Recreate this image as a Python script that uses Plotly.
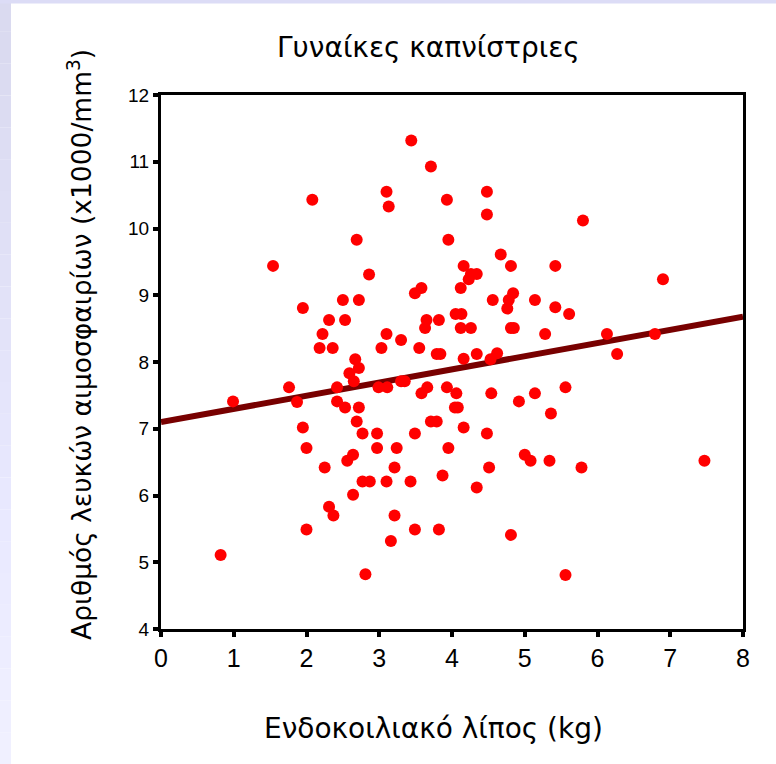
import plotly.graph_objects as go

# ---- data ----
fat_kg = [
    3.44, 3.71, 2.08, 3.10, 3.13, 3.93, 2.69, 3.95, 1.54, 2.86, 3.49, 3.58, 2.50, 2.72, 1.95, 2.31,
    2.53, 3.65, 3.63, 3.82, 2.22, 3.10, 3.30, 2.18, 2.36, 3.03, 3.55, 3.79, 3.84, 2.67, 2.72, 2.59,
    0.99, 1.76, 1.87, 2.42, 2.42, 2.65, 2.53, 2.72, 1.95, 2.69, 2.77, 2.97, 2.00, 2.97, 3.24, 3.49,
    3.95, 2.56, 2.64, 2.25, 3.21, 2.77, 2.87, 3.10, 3.43, 3.87, 2.64, 2.31, 2.37, 3.21, 2.00, 3.49,
    3.82, 3.16, 0.82, 2.81, 2.99, 3.11, 3.30, 3.35, 3.58, 3.66, 3.93, 3.71, 3.79,
    4.48, 4.48, 5.80, 4.67, 4.16, 4.81, 5.42, 4.26, 4.34, 4.23, 6.90, 4.12, 4.84, 4.78, 4.56, 5.14,
    4.76, 5.42, 5.61, 4.05, 4.13, 4.12, 4.26, 4.81, 4.85, 5.28, 6.13, 6.79, 6.27, 4.34, 4.16, 4.62,
    4.53,
    4.06, 4.08, 4.04, 4.54, 4.92, 5.14, 5.56, 5.36, 4.16, 4.48, 5.00, 5.08, 5.34, 5.78, 7.47, 4.51,
    4.34, 4.81, 5.56,
]
wbc = [
    11.32, 10.93, 10.43, 10.55, 10.33, 10.43, 9.83, 9.83, 9.44, 9.31, 9.03, 9.11, 8.93, 8.93, 8.81, 8.63,
    8.63, 8.63, 8.51, 8.63, 8.42, 8.42, 8.33, 8.21, 8.21, 8.21, 8.21, 8.12, 8.12, 8.04, 7.91, 7.83,
    7.41, 7.62, 7.40, 7.62, 7.41, 7.71, 7.32, 7.32, 7.02, 7.11, 6.93, 6.93, 6.71, 6.71, 6.71, 6.93,
    6.71, 6.52, 6.61, 6.42, 6.42, 6.21, 6.21, 6.21, 6.21, 6.30, 6.01, 5.83, 5.70, 5.70, 5.49, 5.49,
    5.49, 5.32, 5.11, 4.82, 7.62, 7.62, 7.71, 7.71, 7.53, 7.62, 7.62, 7.11, 7.11,
    10.55, 10.21, 10.12, 9.61, 9.44, 9.44, 9.44, 9.32, 9.32, 9.24, 9.24, 9.11, 9.03, 8.93, 8.93, 8.93,
    8.80, 8.82, 8.72, 8.72, 8.72, 8.51, 8.51, 8.51, 8.51, 8.42, 8.42, 8.42, 8.12, 8.12, 8.05, 8.13,
    8.04,
    7.53, 7.32, 7.32, 7.53, 7.41, 7.53, 7.62, 7.23, 7.02, 6.93, 6.61, 6.52, 6.52, 6.42, 6.52, 6.42,
    6.12, 5.41, 4.81,
]
fit_x = [0, 8]
fit_y = [7.10, 8.68]

x_ticks = [0, 1, 2, 3, 4, 5, 6, 7, 8]
y_ticks = [4, 5, 6, 7, 8, 9, 10, 11, 12]

title_text = "Γυναίκες καπνίστριες"
x_title = "Ενδοκοιλιακό λίπος (kg)"
y_title = "Αριθμός λευκών αιμοσφαιρίων (x1000/mm<sup>3</sup>)"

# ---- figure ----
W, H = 776, 764
L, R, T, B = 161, 33, 95, 135
PW, PH = W - L - R, H - T - B


def px_x(p):
    return (p - L) / PW


def px_y(p):
    return (H - B - p) / PH


fig = go.Figure()
fig.add_trace(go.Scatter(x=fit_x, y=fit_y, mode="lines",
                         line=dict(color="#780000", width=6), hoverinfo="skip",
                         showlegend=False))
fig.add_trace(go.Scatter(x=fat_kg, y=wbc, mode="markers",
                         marker=dict(color="#FF0000", size=12, line=dict(width=0)),
                         showlegend=False))

shapes = []
# lavender frame strips (gradient)
n = 24
for i in range(n):
    t = i / (n - 1)
    r = int(0xDA + (0xF0 - 0xDA) * t)
    col = f"rgb({r},{r},{min(255, r + 22)})"
    y0 = H * i / n
    y1 = H * (i + 1) / n
    shapes.append(dict(type="rect", xref="paper", yref="paper",
                       x0=px_x(0), x1=px_x(11), y0=px_y(y1), y1=px_y(y0),
                       fillcolor=col, line=dict(width=0), layer="below"))
shapes.append(dict(type="rect", xref="paper", yref="paper",
                   x0=px_x(0), x1=px_x(W), y0=px_y(3.5), y1=px_y(0),
                   fillcolor="rgb(220,220,246)", line=dict(width=0), layer="below"))

annotations = [
    dict(text=title_text, xref="paper", yref="paper", x=px_x(428), y=px_y(48),
         showarrow=False, xanchor="center", yanchor="middle",
         font=dict(family="DejaVu Sans", size=28, color="#000")),
    dict(text=x_title, xref="paper", yref="paper", x=px_x(433), y=px_y(728),
         showarrow=False, xanchor="center", yanchor="middle",
         font=dict(family="DejaVu Sans", size=28, color="#000")),
    dict(text=y_title, xref="paper", yref="paper", x=px_x(80), y=px_y(345),
         showarrow=False, xanchor="center", yanchor="middle", textangle=-90,
         font=dict(family="DejaVu Sans", size=26.5, color="#000")),
]

fig.update_layout(
    width=W, height=H,
    margin=dict(l=L, r=R, t=T, b=B, pad=0),
    paper_bgcolor="white", plot_bgcolor="white",
    shapes=shapes, annotations=annotations,
    showlegend=False,
)
fig.update_xaxes(range=[0, 8], tickvals=x_ticks, ticktext=[str(v) for v in x_ticks],
                 showgrid=False, zeroline=False,
                 showline=True, linecolor="black", linewidth=3, mirror=True,
                 ticks="outside", ticklen=5, tickwidth=4, tickcolor="black",
                 tickfont=dict(family="Liberation Sans", size=25, color="#000"))
fig.update_yaxes(range=[4, 12], tickvals=y_ticks, ticktext=[str(v) for v in y_ticks],
                 showgrid=False, zeroline=False,
                 showline=True, linecolor="black", linewidth=3, mirror=True,
                 ticks="outside", ticklen=5, tickwidth=4, tickcolor="black",
                 tickfont=dict(family="Liberation Sans", size=19, color="#000"))

fig.write_html("out.html")
